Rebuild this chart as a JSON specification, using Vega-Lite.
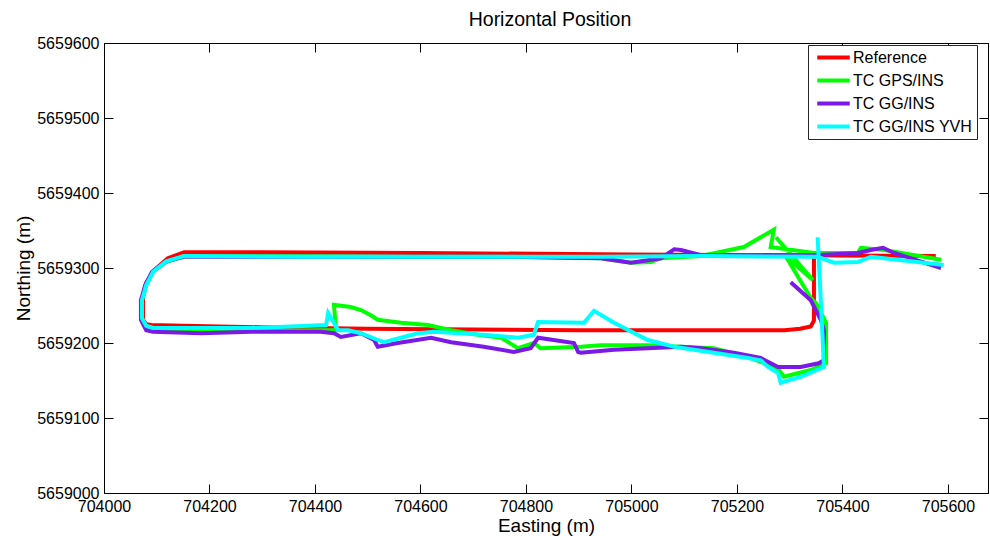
{
  "$schema": "https://vega.github.io/schema/vega-lite/v6.json",
  "width": 884,
  "height": 450,
  "autosize": {"type": "none"},
  "padding": {"left": 104, "top": 43, "right": 2, "bottom": 43},
  "background": "white",
  "title": {"text": "Horizontal Position", "fontSize": 19.5, "font": "Liberation Sans", "fontWeight": "normal", "color": "black", "anchor": "middle", "offset": -10, "baseline": "alphabetic", "dx": 4},
  "config": {
    "view": {"stroke": "black", "strokeWidth": 1},
    "axis": {"domainColor": "black", "tickColor": "black", "labelColor": "black", "labelFont": "Liberation Sans", "labelFontSize": 16, "titleFont": "Liberation Sans", "titleFontSize": 19, "titleFontWeight": "normal", "titleColor": "black", "grid": false, "tickSize": -9, "labelPadding": 14, "domainWidth": 1, "tickWidth": 1, "labelFlush": false, "labelOverlap": false},
    "legend": {"labelFont": "Liberation Sans", "labelFontSize": 16, "labelColor": "black", "labelLimit": 300}
  },
  "data": {"values": [
    {"s":"Reference","i":0,"e":705346,"n":5659313},
    {"s":"Reference","i":1,"e":705346,"n":5659230},
    {"s":"Reference","i":2,"e":705340,"n":5659222},
    {"s":"Reference","i":3,"e":705320,"n":5659219},
    {"s":"Reference","i":4,"e":705290,"n":5659217},
    {"s":"Reference","i":5,"e":705100,"n":5659217},
    {"s":"Reference","i":6,"e":704900,"n":5659217},
    {"s":"Reference","i":7,"e":704700,"n":5659218},
    {"s":"Reference","i":8,"e":704500,"n":5659219},
    {"s":"Reference","i":9,"e":704300,"n":5659221},
    {"s":"Reference","i":10,"e":704150,"n":5659223},
    {"s":"Reference","i":11,"e":704090,"n":5659224},
    {"s":"Reference","i":12,"e":704080,"n":5659225},
    {"s":"Reference","i":13,"e":704074,"n":5659231},
    {"s":"Reference","i":14,"e":704074,"n":5659261},
    {"s":"Reference","i":15,"e":704080,"n":5659280},
    {"s":"Reference","i":16,"e":704095,"n":5659297},
    {"s":"Reference","i":17,"e":704121,"n":5659313},
    {"s":"Reference","i":18,"e":704152,"n":5659321},
    {"s":"Reference","i":19,"e":704300,"n":5659321},
    {"s":"Reference","i":20,"e":704600,"n":5659320},
    {"s":"Reference","i":21,"e":705000,"n":5659318},
    {"s":"Reference","i":22,"e":705300,"n":5659317},
    {"s":"Reference","i":23,"e":705577,"n":5659316},

    {"s":"TC GPS/INS","i":0,"e":705274,"n":5659341},
    {"s":"TC GPS/INS","i":1,"e":705344,"n":5659284},
    {"s":"TC GPS/INS","i":2,"e":705293,"n":5659315},
    {"s":"TC GPS/INS","i":3,"e":705340,"n":5659260},
    {"s":"TC GPS/INS","i":4,"e":705350,"n":5659253},
    {"s":"TC GPS/INS","i":5,"e":705369,"n":5659227},
    {"s":"TC GPS/INS","i":6,"e":705369,"n":5659173},
    {"s":"TC GPS/INS","i":7,"e":705340,"n":5659164},
    {"s":"TC GPS/INS","i":8,"e":705289,"n":5659155},
    {"s":"TC GPS/INS","i":9,"e":705280,"n":5659164},
    {"s":"TC GPS/INS","i":10,"e":705259,"n":5659171},
    {"s":"TC GPS/INS","i":11,"e":705221,"n":5659181},
    {"s":"TC GPS/INS","i":12,"e":705156,"n":5659193},
    {"s":"TC GPS/INS","i":13,"e":705094,"n":5659195},
    {"s":"TC GPS/INS","i":14,"e":705031,"n":5659197},
    {"s":"TC GPS/INS","i":15,"e":704942,"n":5659197},
    {"s":"TC GPS/INS","i":16,"e":704904,"n":5659195},
    {"s":"TC GPS/INS","i":17,"e":704828,"n":5659193},
    {"s":"TC GPS/INS","i":18,"e":704815,"n":5659200},
    {"s":"TC GPS/INS","i":19,"e":704785,"n":5659193},
    {"s":"TC GPS/INS","i":20,"e":704753,"n":5659207},
    {"s":"TC GPS/INS","i":21,"e":704709,"n":5659211},
    {"s":"TC GPS/INS","i":22,"e":704658,"n":5659217},
    {"s":"TC GPS/INS","i":23,"e":704614,"n":5659224},
    {"s":"TC GPS/INS","i":24,"e":704563,"n":5659227},
    {"s":"TC GPS/INS","i":25,"e":704519,"n":5659231},
    {"s":"TC GPS/INS","i":26,"e":704506,"n":5659237},
    {"s":"TC GPS/INS","i":27,"e":704487,"n":5659244},
    {"s":"TC GPS/INS","i":28,"e":704468,"n":5659248},
    {"s":"TC GPS/INS","i":29,"e":704436,"n":5659251},
    {"s":"TC GPS/INS","i":30,"e":704440,"n":5659217},
    {"s":"TC GPS/INS","i":31,"e":704411,"n":5659217},
    {"s":"TC GPS/INS","i":32,"e":704279,"n":5659216},
    {"s":"TC GPS/INS","i":33,"e":704184,"n":5659216},
    {"s":"TC GPS/INS","i":34,"e":704093,"n":5659217},
    {"s":"TC GPS/INS","i":35,"e":704080,"n":5659220},
    {"s":"TC GPS/INS","i":36,"e":704072,"n":5659231},
    {"s":"TC GPS/INS","i":37,"e":704072,"n":5659257},
    {"s":"TC GPS/INS","i":38,"e":704080,"n":5659277},
    {"s":"TC GPS/INS","i":39,"e":704093,"n":5659295},
    {"s":"TC GPS/INS","i":40,"e":704118,"n":5659308},
    {"s":"TC GPS/INS","i":41,"e":704152,"n":5659316},
    {"s":"TC GPS/INS","i":42,"e":704373,"n":5659316},
    {"s":"TC GPS/INS","i":43,"e":704563,"n":5659315},
    {"s":"TC GPS/INS","i":44,"e":704753,"n":5659315},
    {"s":"TC GPS/INS","i":45,"e":704942,"n":5659313},
    {"s":"TC GPS/INS","i":46,"e":704999,"n":5659307},
    {"s":"TC GPS/INS","i":47,"e":705037,"n":5659308},
    {"s":"TC GPS/INS","i":48,"e":705056,"n":5659313},
    {"s":"TC GPS/INS","i":49,"e":705132,"n":5659316},
    {"s":"TC GPS/INS","i":50,"e":705213,"n":5659328},
    {"s":"TC GPS/INS","i":51,"e":705270,"n":5659351},
    {"s":"TC GPS/INS","i":52,"e":705264,"n":5659328},
    {"s":"TC GPS/INS","i":53,"e":705346,"n":5659320},
    {"s":"TC GPS/INS","i":54,"e":705429,"n":5659320},
    {"s":"TC GPS/INS","i":55,"e":705435,"n":5659327},
    {"s":"TC GPS/INS","i":56,"e":705479,"n":5659324},
    {"s":"TC GPS/INS","i":57,"e":705587,"n":5659311},

    {"s":"TC GG/INS","i":0,"e":705302,"n":5659281},
    {"s":"TC GG/INS","i":1,"e":705340,"n":5659257},
    {"s":"TC GG/INS","i":2,"e":705359,"n":5659231},
    {"s":"TC GG/INS","i":3,"e":705365,"n":5659217},
    {"s":"TC GG/INS","i":4,"e":705365,"n":5659177},
    {"s":"TC GG/INS","i":5,"e":705355,"n":5659173},
    {"s":"TC GG/INS","i":6,"e":705321,"n":5659168},
    {"s":"TC GG/INS","i":7,"e":705278,"n":5659168},
    {"s":"TC GG/INS","i":8,"e":705245,"n":5659180},
    {"s":"TC GG/INS","i":9,"e":705194,"n":5659187},
    {"s":"TC GG/INS","i":10,"e":705132,"n":5659193},
    {"s":"TC GG/INS","i":11,"e":705094,"n":5659195},
    {"s":"TC GG/INS","i":12,"e":705031,"n":5659193},
    {"s":"TC GG/INS","i":13,"e":704967,"n":5659191},
    {"s":"TC GG/INS","i":14,"e":704904,"n":5659187},
    {"s":"TC GG/INS","i":15,"e":704899,"n":5659188},
    {"s":"TC GG/INS","i":16,"e":704891,"n":5659200},
    {"s":"TC GG/INS","i":17,"e":704823,"n":5659207},
    {"s":"TC GG/INS","i":18,"e":704809,"n":5659193},
    {"s":"TC GG/INS","i":19,"e":704777,"n":5659188},
    {"s":"TC GG/INS","i":20,"e":704720,"n":5659195},
    {"s":"TC GG/INS","i":21,"e":704658,"n":5659201},
    {"s":"TC GG/INS","i":22,"e":704620,"n":5659207},
    {"s":"TC GG/INS","i":23,"e":704557,"n":5659200},
    {"s":"TC GG/INS","i":24,"e":704519,"n":5659195},
    {"s":"TC GG/INS","i":25,"e":704512,"n":5659204},
    {"s":"TC GG/INS","i":26,"e":704487,"n":5659213},
    {"s":"TC GG/INS","i":27,"e":704449,"n":5659208},
    {"s":"TC GG/INS","i":28,"e":704436,"n":5659213},
    {"s":"TC GG/INS","i":29,"e":704411,"n":5659215},
    {"s":"TC GG/INS","i":30,"e":704279,"n":5659215},
    {"s":"TC GG/INS","i":31,"e":704184,"n":5659213},
    {"s":"TC GG/INS","i":32,"e":704093,"n":5659215},
    {"s":"TC GG/INS","i":33,"e":704080,"n":5659217},
    {"s":"TC GG/INS","i":34,"e":704070,"n":5659231},
    {"s":"TC GG/INS","i":35,"e":704070,"n":5659257},
    {"s":"TC GG/INS","i":36,"e":704078,"n":5659277},
    {"s":"TC GG/INS","i":37,"e":704091,"n":5659295},
    {"s":"TC GG/INS","i":38,"e":704118,"n":5659309},
    {"s":"TC GG/INS","i":39,"e":704152,"n":5659315},
    {"s":"TC GG/INS","i":40,"e":704373,"n":5659315},
    {"s":"TC GG/INS","i":41,"e":704753,"n":5659315},
    {"s":"TC GG/INS","i":42,"e":704942,"n":5659313},
    {"s":"TC GG/INS","i":43,"e":704999,"n":5659307},
    {"s":"TC GG/INS","i":44,"e":705056,"n":5659313},
    {"s":"TC GG/INS","i":45,"e":705081,"n":5659325},
    {"s":"TC GG/INS","i":46,"e":705094,"n":5659324},
    {"s":"TC GG/INS","i":47,"e":705132,"n":5659317},
    {"s":"TC GG/INS","i":48,"e":705346,"n":5659317},
    {"s":"TC GG/INS","i":49,"e":705429,"n":5659320},
    {"s":"TC GG/INS","i":50,"e":705454,"n":5659324},
    {"s":"TC GG/INS","i":51,"e":705477,"n":5659327},
    {"s":"TC GG/INS","i":52,"e":705498,"n":5659320},
    {"s":"TC GG/INS","i":53,"e":705587,"n":5659300},

    {"s":"TC GG/INS YVH","i":0,"e":705353,"n":5659341},
    {"s":"TC GG/INS YVH","i":1,"e":705359,"n":5659257},
    {"s":"TC GG/INS YVH","i":2,"e":705365,"n":5659168},
    {"s":"TC GG/INS YVH","i":3,"e":705321,"n":5659155},
    {"s":"TC GG/INS YVH","i":4,"e":705283,"n":5659147},
    {"s":"TC GG/INS YVH","i":5,"e":705278,"n":5659160},
    {"s":"TC GG/INS YVH","i":6,"e":705259,"n":5659168},
    {"s":"TC GG/INS YVH","i":7,"e":705245,"n":5659177},
    {"s":"TC GG/INS YVH","i":8,"e":705221,"n":5659180},
    {"s":"TC GG/INS YVH","i":9,"e":705156,"n":5659187},
    {"s":"TC GG/INS YVH","i":10,"e":705081,"n":5659195},
    {"s":"TC GG/INS YVH","i":11,"e":705031,"n":5659204},
    {"s":"TC GG/INS YVH","i":12,"e":704967,"n":5659227},
    {"s":"TC GG/INS YVH","i":13,"e":704929,"n":5659243},
    {"s":"TC GG/INS YVH","i":14,"e":704910,"n":5659227},
    {"s":"TC GG/INS YVH","i":15,"e":704823,"n":5659228},
    {"s":"TC GG/INS YVH","i":16,"e":704815,"n":5659211},
    {"s":"TC GG/INS YVH","i":17,"e":704785,"n":5659207},
    {"s":"TC GG/INS YVH","i":18,"e":704720,"n":5659211},
    {"s":"TC GG/INS YVH","i":19,"e":704626,"n":5659215},
    {"s":"TC GG/INS YVH","i":20,"e":704595,"n":5659213},
    {"s":"TC GG/INS YVH","i":21,"e":704531,"n":5659201},
    {"s":"TC GG/INS YVH","i":22,"e":704519,"n":5659204},
    {"s":"TC GG/INS YVH","i":23,"e":704487,"n":5659213},
    {"s":"TC GG/INS YVH","i":24,"e":704463,"n":5659217},
    {"s":"TC GG/INS YVH","i":25,"e":704444,"n":5659217},
    {"s":"TC GG/INS YVH","i":26,"e":704425,"n":5659240},
    {"s":"TC GG/INS YVH","i":27,"e":704421,"n":5659224},
    {"s":"TC GG/INS YVH","i":28,"e":704279,"n":5659220},
    {"s":"TC GG/INS YVH","i":29,"e":704184,"n":5659220},
    {"s":"TC GG/INS YVH","i":30,"e":704093,"n":5659220},
    {"s":"TC GG/INS YVH","i":31,"e":704080,"n":5659223},
    {"s":"TC GG/INS YVH","i":32,"e":704072,"n":5659233},
    {"s":"TC GG/INS YVH","i":33,"e":704072,"n":5659257},
    {"s":"TC GG/INS YVH","i":34,"e":704080,"n":5659277},
    {"s":"TC GG/INS YVH","i":35,"e":704093,"n":5659295},
    {"s":"TC GG/INS YVH","i":36,"e":704118,"n":5659309},
    {"s":"TC GG/INS YVH","i":37,"e":704152,"n":5659316},
    {"s":"TC GG/INS YVH","i":38,"e":704373,"n":5659315},
    {"s":"TC GG/INS YVH","i":39,"e":704753,"n":5659315},
    {"s":"TC GG/INS YVH","i":40,"e":704942,"n":5659315},
    {"s":"TC GG/INS YVH","i":41,"e":705132,"n":5659316},
    {"s":"TC GG/INS YVH","i":42,"e":705353,"n":5659315},
    {"s":"TC GG/INS YVH","i":43,"e":705384,"n":5659307},
    {"s":"TC GG/INS YVH","i":44,"e":705429,"n":5659308},
    {"s":"TC GG/INS YVH","i":45,"e":705454,"n":5659315},
    {"s":"TC GG/INS YVH","i":46,"e":705592,"n":5659304}
  ]},
  "layer": [
    {
      "transform": [{"filter": "datum.s === 'Reference'"}],
      "mark": {"type": "line", "strokeWidth": 4},
      "encoding": {
        "x": {"field": "e", "type": "quantitative", "scale": {"domain": [704000, 705676], "nice": false, "zero": false},
              "axis": {"orient": "bottom", "values": [704000, 704200, 704400, 704600, 704800, 705000, 705200, 705400, 705600], "format": "d", "title": "Easting (m)", "titlePadding": 2}},
        "y": {"field": "n", "type": "quantitative", "scale": {"domain": [5659000, 5659600], "nice": false, "zero": false},
              "axis": {"orient": "left", "values": [5659000, 5659100, 5659200, 5659300, 5659400, 5659500, 5659600], "format": "d", "title": "Northing (m)", "titlePadding": 3}},
        "color": {"field": "s", "type": "nominal",
                  "scale": {"domain": ["Reference", "TC GPS/INS", "TC GG/INS", "TC GG/INS YVH"], "range": ["#ff0000", "#00ff00", "#7b1ae6", "#00ffff"]},
                  "legend": {"orient": "none", "legendX": 704, "legendY": 2, "title": null, "symbolType": "M-2.5,0H2.5", "symbolSize": 169, "symbolStrokeWidth": 4, "symbolOffset": 13, "labelOffset": 11, "padding": 4, "rowPadding": 6, "strokeColor": "#262626", "fillColor": "white"}},
        "order": {"field": "i", "type": "quantitative"}
      }
    },
    {
      "transform": [{"filter": "datum.s === 'TC GPS/INS'"}],
      "mark": {"type": "line", "strokeWidth": 4},
      "encoding": {
        "x": {"field": "e", "type": "quantitative", "scale": {"domain": [704000, 705676], "nice": false, "zero": false},
              "axis": {"orient": "top", "values": [704000, 704200, 704400, 704600, 704800, 705000, 705200, 705400, 705600], "labels": false, "title": null}},
        "y": {"field": "n", "type": "quantitative", "scale": {"domain": [5659000, 5659600], "nice": false, "zero": false},
              "axis": {"orient": "right", "values": [5659000, 5659100, 5659200, 5659300, 5659400, 5659500, 5659600], "labels": false, "title": null}},
        "color": {"field": "s", "type": "nominal"},
        "order": {"field": "i", "type": "quantitative"}
      }
    },
    {
      "transform": [{"filter": "datum.s === 'TC GG/INS'"}],
      "mark": {"type": "line", "strokeWidth": 4},
      "encoding": {
        "x": {"field": "e", "type": "quantitative", "scale": {"domain": [704000, 705676], "nice": false, "zero": false}, "axis": null},
        "y": {"field": "n", "type": "quantitative", "scale": {"domain": [5659000, 5659600], "nice": false, "zero": false}, "axis": null},
        "color": {"field": "s", "type": "nominal"},
        "order": {"field": "i", "type": "quantitative"}
      }
    },
    {
      "transform": [{"filter": "datum.s === 'TC GG/INS YVH'"}],
      "mark": {"type": "line", "strokeWidth": 4},
      "encoding": {
        "x": {"field": "e", "type": "quantitative", "scale": {"domain": [704000, 705676], "nice": false, "zero": false}, "axis": null},
        "y": {"field": "n", "type": "quantitative", "scale": {"domain": [5659000, 5659600], "nice": false, "zero": false}, "axis": null},
        "color": {"field": "s", "type": "nominal"},
        "order": {"field": "i", "type": "quantitative"}
      }
    }
  ],
  "resolve": {"axis": {"x": "independent", "y": "independent"}}
}
